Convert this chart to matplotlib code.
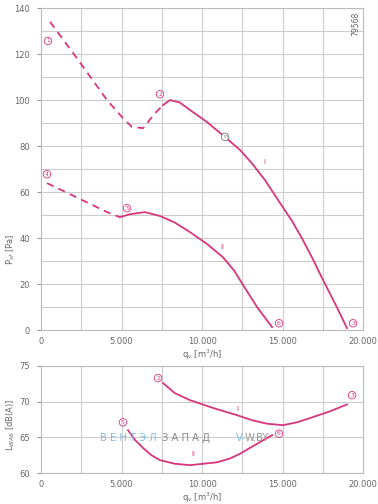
import matplotlib
matplotlib.use("Agg")
import matplotlib.pyplot as plt
from matplotlib.ticker import FuncFormatter, MultipleLocator

# --- data ------------------------------------------------------------------
# pressure curve I (dashed = unstable part, solid = working part)
p1_dash_q = [560, 2000, 4100, 5030, 5650, 6340, 7080, 7580]
p1_dash_p = [134, 120.4, 100, 92.6, 88.3, 87.8, 94.3, 97.8]
p1_q = [7580, 8010, 8600, 9250, 10300, 11430, 12360, 13100, 13910, 14850,
        15600, 16270, 16900, 17520, 18300, 19000]
p1_p = [97.8, 100, 99.0, 95.7, 90.5, 83.9, 78.3, 72.5, 65.2, 55.2,
        47.3, 39.1, 30.6, 21.7, 11.0, 0.9]

# pressure curve II
p2_dash_q = [370, 2420, 4100, 4900]
p2_dash_p = [63.9, 57.0, 51.3, 49.1]
p2_q = [4900, 5530, 6460, 7390, 8300, 9250, 10300, 11300, 12000, 12550,
        13420, 14350]
p2_p = [49.1, 50.4, 51.3, 49.6, 46.8, 42.6, 37.5, 31.7, 25.8, 19.6,
        10.0, 1.3]

# sound power curves
l1_q = [7580, 8300, 9250, 10700, 12170, 13100, 14040, 15030, 15900, 16710,
        17900, 19000]
l1_l = [72.6, 71.2, 70.2, 69.1, 68.1, 67.4, 66.9, 66.7, 67.1, 67.7,
        68.6, 69.6]
l2_q = [5400, 5850, 6340, 6850, 7390, 8300, 9250, 10930, 11700, 12360,
        13420, 14350]
l2_l = [66.0, 64.6, 63.5, 62.5, 61.8, 61.3, 61.1, 61.5, 62.0, 62.7,
        64.1, 65.3]

# point labels (text, q, value)
top_points = [("1", 435, 125.7), ("2", 7390, 102.6), ("3", 19380, 3),
              ("4", 370, 67.8), ("5", 5340, 53), ("6", 14780, 3)]
bottom_points = [("2", 7270, 73.3), ("5", 5090, 67.1), ("6", 14780, 65.5),
                 ("3", 19320, 70.9)]

MAG = "#d9357f"
GRID = "#cccccc"
TXT = "#666666"


def thousands(x, pos):
    return f"{int(x):,}".replace(",", ".")


def style_axes(ax, ymin, ymax, ymajor, yminor):
    ax.set_xlim(0, 20000)
    ax.set_ylim(ymin, ymax)
    ax.xaxis.set_major_locator(MultipleLocator(5000))
    ax.xaxis.set_minor_locator(MultipleLocator(2500))
    ax.yaxis.set_major_locator(MultipleLocator(ymajor))
    ax.yaxis.set_minor_locator(MultipleLocator(yminor))
    ax.xaxis.set_major_formatter(FuncFormatter(thousands))
    ax.grid(True, which="both", color=GRID, linewidth=0.8)
    ax.set_axisbelow(True)
    for s in ax.spines.values():
        s.set_color("#bbbbbb")
        s.set_linewidth(0.8)
    ax.tick_params(which="both", length=0, labelsize=6, colors=TXT, pad=5)
    ax.tick_params(axis="y", which="major", length=3, color="#999999",
                   direction="out")


def circled(ax, txt, x, y, color=MAG):
    ax.text(x, y, txt, fontsize=4.5, color=color, ha="center", va="center",
            bbox=dict(boxstyle="circle,pad=0.2", fc="white", ec=color, lw=0.6))


fig = plt.figure(figsize=(3.78, 5.04), dpi=100)

# --- pressure chart ---
ax1 = fig.add_axes([0.1085, 0.345, 0.852, 0.639])
style_axes(ax1, 0, 140, 20, 10)
ax1.plot(p1_dash_q, p1_dash_p, color=MAG, lw=1.3, ls=(0, (4, 3)))
ax1.plot(p1_q, p1_p, color=MAG, lw=1.3)
ax1.plot(p2_dash_q, p2_dash_p, color=MAG, lw=1.3, ls=(0, (4, 3)))
ax1.plot(p2_q, p2_p, color=MAG, lw=1.3)
for t, q, v in top_points:
    circled(ax1, t, q, v)
circled(ax1, "n", 11430, 84, color="#777777")
ax1.text(13850, 73, "I", fontsize=5, color=MAG, ha="center", va="center")
ax1.text(11240, 36, "II", fontsize=5, color=MAG, ha="center", va="center")
ax1.text(0.99, 0.99, "79568", transform=ax1.transAxes, rotation=90,
         fontsize=5.5, color=TXT, ha="right", va="top")
ax1.set_xlabel("q$_v$ [m$^3$/h]", fontsize=6, color=TXT, labelpad=1)
ax1.set_ylabel("P$_{sf}$ [Pa]", fontsize=6, color=TXT, labelpad=2)
ax1.yaxis.set_label_coords(-0.075, 0.25)

# --- sound power chart ---
ax2 = fig.add_axes([0.1085, 0.0615, 0.852, 0.2125])
style_axes(ax2, 60, 75, 5, 5)
ax2.plot(l1_q, l1_l, color=MAG, lw=1.3)
ax2.plot(l2_q, l2_l, color=MAG, lw=1.3)
for t, q, v in bottom_points:
    circled(ax2, t, q, v)
ax2.text(12170, 68.9, "I", fontsize=5, color=MAG, ha="center", va="center")
ax2.text(9440, 62.7, "II", fontsize=5, color=MAG, ha="center", va="center")
ax2.set_xlabel("q$_v$ [m$^3$/h]", fontsize=6, color=TXT, labelpad=1)
ax2.set_ylabel("L$_{WA6}$ [dB(A)]", fontsize=6, color=TXT, labelpad=2)
ax2.yaxis.set_label_coords(-0.075, 0.45)

# watermark
wm_y = 0.33
ax2.text(0.183, wm_y, "В Е Н Т Э Л", transform=ax2.transAxes, fontsize=7.2,
         color="#7fbfe6", ha="left", va="center")
ax2.text(0.375, wm_y, "З А П А Д", transform=ax2.transAxes, fontsize=7.2,
         color="#8a8a8a", ha="left", va="center")
ax2.text(0.605, wm_y, "V-", transform=ax2.transAxes, fontsize=7.2,
         color="#7fbfe6", ha="left", va="center")
ax2.text(0.633, wm_y, "W.BY", transform=ax2.transAxes, fontsize=7.2,
         color="#9a9a9a", ha="left", va="center")

fig.savefig("out.png", dpi=100, facecolor="white")
